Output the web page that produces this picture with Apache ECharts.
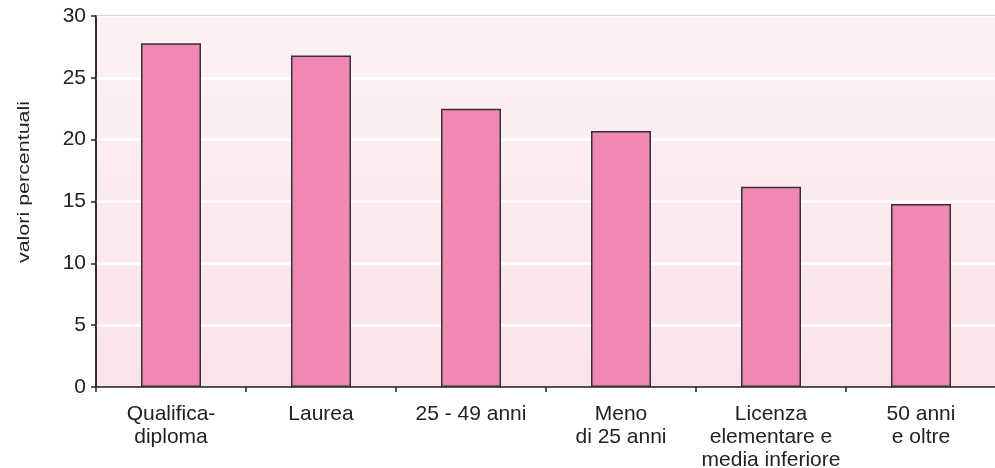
<!DOCTYPE html>
<html>
<head>
<meta charset="utf-8">
<script src="https://cdn.jsdelivr.net/npm/echarts@6/dist/echarts.min.js"></script>
<style>
  html, body { margin: 0; padding: 0; background: #ffffff; }
  #chart { width: 995px; height: 468px; }
</style>
</head>
<body>
<div id="chart"></div>
<script>
// Categories and percentage values
const categories = [
  'Qualifica-\ndiploma',
  'Laurea',
  '25 - 49 anni',
  'Meno\ndi 25 anni',
  'Licenza\nelementare e\nmedia inferiore',
  '50 anni\ne oltre'
];
const values = [27.8, 26.8, 22.5, 20.7, 16.2, 14.8];
const yTicks = { min: 0, max: 30, interval: 5 };
const yAxisTitle = 'valori percentuali';

const FONT = '"Liberation Sans", Arial, Helvetica, sans-serif';
const chart = echarts.init(document.getElementById('chart'), null, { renderer: 'canvas' });

chart.setOption({
  animation: false,
  grid: {
    left: 96, top: 16, right: -1, bottom: 81,
    containLabel: false,
    outerBoundsMode: 'none',
    show: true,
    borderColor: '#222',
    borderWidth: 1.5,
    backgroundColor: new echarts.graphic.LinearGradient(0, 0, 0, 1, [
      { offset: 0, color: '#fdf1f6' },
      { offset: 1, color: '#fbe3ed' }
    ])
  },
  // Axis title drawn as a widened, rotated text element
  graphic: [{
    type: 'text',
    rotation: Math.PI / 2,
    scaleX: 1.34,
    x: 25, y: 182,
    style: {
      text: yAxisTitle,
      fill: '#222',
      font: '16px ' + FONT,
      textAlign: 'center',
      textVerticalAlign: 'middle'
    }
  }],
  xAxis: {
    type: 'category',
    data: categories,
    axisLine: { lineStyle: { color: '#222', width: 1.5 } },
    axisTick: { show: true, length: 5, lineStyle: { color: '#222', width: 1.5 } },
    axisLabel: {
      color: '#222', fontFamily: FONT, fontSize: 21, lineHeight: 23,
      margin: 16, interval: 0
    },
    splitLine: { show: false }
  },
  yAxis: {
    type: 'value',
    min: yTicks.min, max: yTicks.max, interval: yTicks.interval,
    axisLine: { show: true, lineStyle: { color: '#222', width: 1.5 } },
    axisTick: { show: true, length: 5, lineStyle: { color: '#222', width: 1.5 } },
    axisLabel: { color: '#222', fontFamily: FONT, fontSize: 21, margin: 10 },
    splitLine: { show: true, lineStyle: { color: '#ffffff', width: 2.5 } }
  },
  series: [{
    type: 'bar',
    data: values,
    barWidth: '40%',
    itemStyle: { color: '#f088b4', borderColor: '#333', borderWidth: 1.5 }
  }]
});
</script>
</body>
</html>
